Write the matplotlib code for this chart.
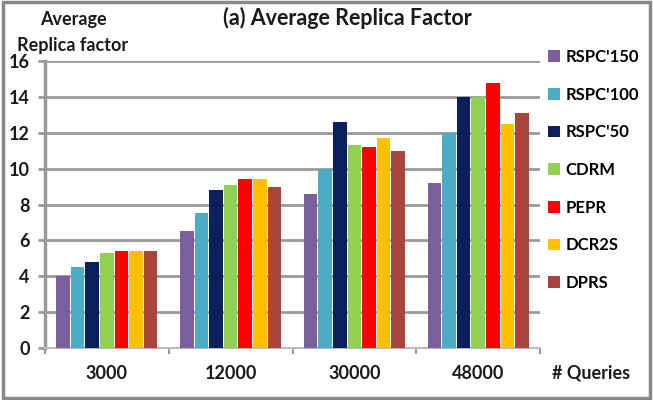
import numpy as np
import matplotlib.pyplot as plt
from matplotlib.patches import Rectangle

# data
queries = ['3000', '12000', '30000', '48000']
methods = ["RSPC'150", "RSPC'100", "RSPC'50", 'CDRM', 'PEPR', 'DCR2S', 'DPRS']
rspc150 = [4.0, 6.5, 8.6, 9.2]
rspc100 = [4.5, 7.5, 10.0, 12.0]
rspc50 = [4.8, 8.8, 12.6, 14.0]
cdrm = [5.3, 9.1, 11.3, 14.0]
pepr = [5.4, 9.4, 11.2, 14.8]
dcr2s = [5.4, 9.4, 11.7, 12.5]
dprs = [5.4, 9.0, 11.0, 13.1]
series = [rspc150, rspc100, rspc50, cdrm, pepr, dcr2s, dprs]
colors = ['#7B5E9C', '#4BACC6', '#0A1F5C', '#92D050', '#FF0000', '#FFC000', '#A8453F']

plt.rcParams['font.family'] = ['Lato', 'DejaVu Sans']
txt = '#1a1a1a'

fig = plt.figure(figsize=(6.53, 4.00), dpi=100)
ax = fig.add_axes([45/653, 1 - 348/400, 495/653, 287/400])

x = np.arange(len(queries))
w = 0.118
for i, (vals, c) in enumerate(zip(series, colors)):
    off = (i - 3) * w
    ax.bar(x + off, vals, w * 0.93, color=c, label=methods[i], zorder=3)

ax.set_xlim(-0.5, 3.5)
ax.set_ylim(0, 16)
ax.set_yticks(range(0, 17, 2))
ax.set_xticks(x)
ax.set_xticklabels(queries, fontsize=13, fontweight='bold', color=txt)
ax.set_xticks(np.arange(-0.5, 4, 1), minor=True)
ax.tick_params(axis='x', which='major', length=0, pad=12)
ax.tick_params(axis='x', which='minor', length=4, color='#999999', width=1.5)
ax.tick_params(axis='y', length=5, color='#999999', width=2, labelsize=13, pad=6)
for lab in ax.get_yticklabels():
    lab.set_fontweight('bold')
    lab.set_color(txt)
ax.grid(axis='y', color='#999999', linewidth=2, zorder=0)
for s in ['top', 'right']:
    ax.spines[s].set_visible(False)
ax.spines['left'].set_color('#999999')
ax.spines['left'].set_linewidth(2.5)
ax.spines['bottom'].set_color('#bbbbbb')
ax.spines['bottom'].set_linewidth(1.5)

handles, labels = ax.get_legend_handles_labels()
fig.legend(handles, labels, loc='upper left', bbox_to_anchor=(548/653, 1 - 49/400),
           frameon=False, borderpad=0, borderaxespad=0,
           handlelength=0.72, handleheight=0.72,
           handletextpad=0.35, labelspacing=1.3, prop={'weight': 'bold', 'size': 12})

fig.text(347/653, 1 - 18/400, '(a) Average Replica Factor', ha='center', va='center',
         fontsize=15.5, fontweight='bold', color=txt)
fig.text(40/653, 1 - 20/400, 'Average', ha='left', va='center',
         fontsize=13, fontweight='bold', color=txt)
fig.text(17/653, 1 - 45/400, 'Replica factor', ha='left', va='center',
         fontsize=13, fontweight='bold', color=txt)
fig.text(591/653, 1 - 373/400, '# Queries', ha='center', va='center',
         fontsize=13, fontweight='bold', color=txt)

fig.patches.append(Rectangle((0.004, 0.006), 0.992, 0.988, transform=fig.transFigure,
                             fill=False, edgecolor='#888888', linewidth=2.5))

fig.savefig('out.png', dpi=100)
